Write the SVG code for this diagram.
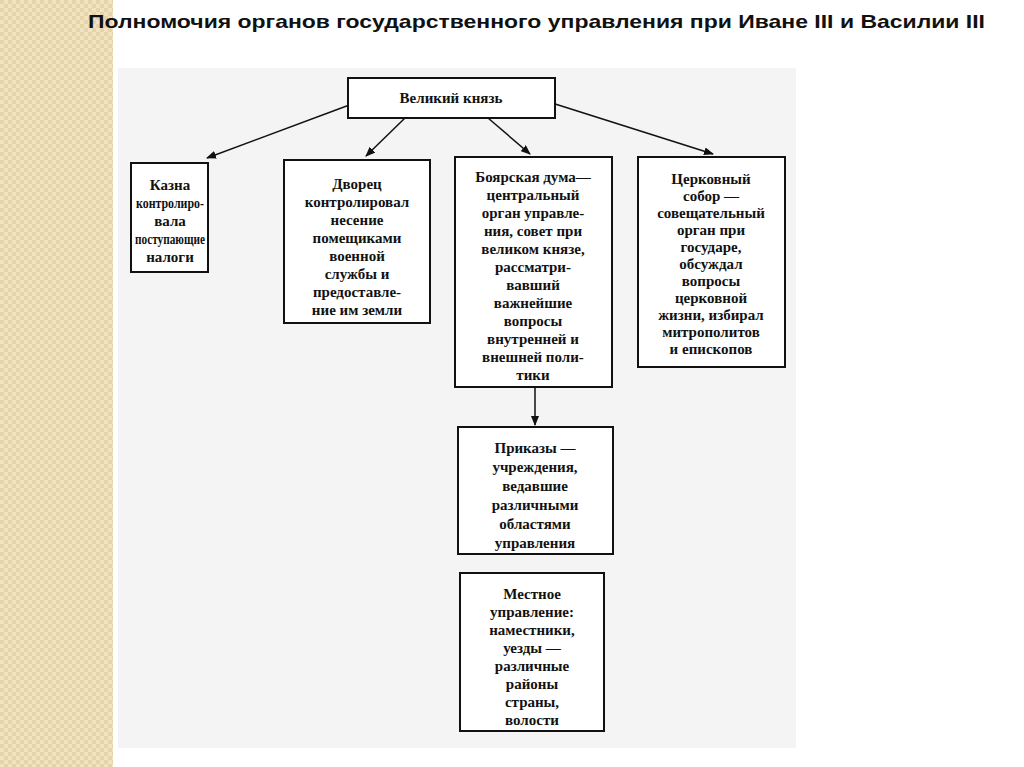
<svg xmlns="http://www.w3.org/2000/svg" width="1024" height="767" viewBox="0 0 1024 767">
<defs>
<pattern id="pt" width="8" height="8" patternUnits="userSpaceOnUse"><rect width="8" height="8" fill="#efe3c4"/><rect width="4" height="4" fill="#e6d4a8"/><rect x="4" y="4" width="4" height="4" fill="#e6d4a8"/></pattern>
<marker id="ar" markerWidth="10" markerHeight="8" refX="9" refY="4" orient="auto" markerUnits="userSpaceOnUse"><path d="M0,0 L10,4 L0,8 z" fill="#111"/></marker>
</defs>
<style>
.b{fill:#fff;stroke:#111;stroke-width:2}
.t{font-family:"Liberation Serif",serif;font-size:15px;fill:#111;text-anchor:middle;font-weight:600}
.c{stroke:#111;stroke-width:1.5;fill:none;marker-end:url(#ar)}
</style>
<rect width="1024" height="767" fill="#fff"/>
<rect x="0" y="0" width="113" height="767" fill="url(#pt)"/>
<rect x="118" y="68" width="678" height="680" fill="#f4f4f4"/>
<text x="88" y="28" textLength="897" lengthAdjust="spacingAndGlyphs" style="font-family:'Liberation Sans',sans-serif;font-size:19px;font-weight:bold" fill="#111">Полномочия органов государственного управления при Иване III и Василии III</text>
<g id="connectors">
<line class="c" x1="352" y1="104" x2="207" y2="158"/>
<line class="c" x1="405" y1="118" x2="366" y2="156"/>
<line class="c" x1="488" y1="118" x2="530" y2="154"/>
<line class="c" x1="552" y1="103" x2="713" y2="154"/>
<line class="c" x1="535" y1="388" x2="535" y2="425"/>
</g>
<g id="knyaz"><rect class="b" x="348" y="78" width="207" height="40"/><text class="t" x="451" y="103">Великий князь</text></g>
<g id="kazna"><rect class="b" x="131" y="163" width="77" height="109"/>
<text class="t" x="170" y="190">Казна</text><text class="t" x="170" y="208" textLength="68" lengthAdjust="spacingAndGlyphs">контролиро-</text><text class="t" x="170" y="226">вала</text><text class="t" x="170" y="244" textLength="70" lengthAdjust="spacingAndGlyphs">поступающие</text><text class="t" x="170" y="262">налоги</text></g>
<g id="dvorec"><rect class="b" x="284" y="160" width="146" height="163"/>
<text class="t" x="357" y="189">Дворец</text><text class="t" x="357" y="207">контролировал</text><text class="t" x="357" y="225">несение</text><text class="t" x="357" y="243">помещиками</text><text class="t" x="357" y="261">военной</text><text class="t" x="357" y="279">службы и</text><text class="t" x="357" y="297">предоставле-</text><text class="t" x="357" y="315">ние им земли</text></g>
<g id="duma"><rect class="b" x="455" y="157" width="157" height="230"/>
<text class="t" x="533" y="182">Боярская дума—</text><text class="t" x="533" y="200">центральный</text><text class="t" x="533" y="218">орган управле-</text><text class="t" x="533" y="236">ния, совет при</text><text class="t" x="533" y="254">великом князе,</text><text class="t" x="533" y="272">рассматри-</text><text class="t" x="533" y="290">вавший</text><text class="t" x="533" y="308">важнейшие</text><text class="t" x="533" y="326">вопросы</text><text class="t" x="533" y="344">внутренней и</text><text class="t" x="533" y="362">внешней поли-</text><text class="t" x="533" y="380">тики</text></g>
<g id="sobor"><rect class="b" x="638" y="157" width="147" height="210"/>
<text class="t" x="711" y="184">Церковный</text><text class="t" x="711" y="201">собор —</text><text class="t" x="711" y="218">совещательный</text><text class="t" x="711" y="235">орган при</text><text class="t" x="711" y="252">государе,</text><text class="t" x="711" y="269">обсуждал</text><text class="t" x="711" y="286">вопросы</text><text class="t" x="711" y="303">церковной</text><text class="t" x="711" y="320">жизни, избирал</text><text class="t" x="711" y="337">митрополитов</text><text class="t" x="711" y="354">и епископов</text></g>
<g id="prikazy"><rect class="b" x="458" y="427" width="155" height="127"/>
<text class="t" x="535" y="453">Приказы —</text><text class="t" x="535" y="472">учреждения,</text><text class="t" x="535" y="491">ведавшие</text><text class="t" x="535" y="510">различными</text><text class="t" x="535" y="529">областями</text><text class="t" x="535" y="548">управления</text></g>
<g id="mestnoe"><rect class="b" x="460" y="573" width="144" height="158"/>
<text class="t" x="532" y="599">Местное</text><text class="t" x="532" y="617">управление:</text><text class="t" x="532" y="635">наместники,</text><text class="t" x="532" y="653">уезды —</text><text class="t" x="532" y="671">различные</text><text class="t" x="532" y="689">районы</text><text class="t" x="532" y="707">страны,</text><text class="t" x="532" y="725">волости</text></g>
</svg>
